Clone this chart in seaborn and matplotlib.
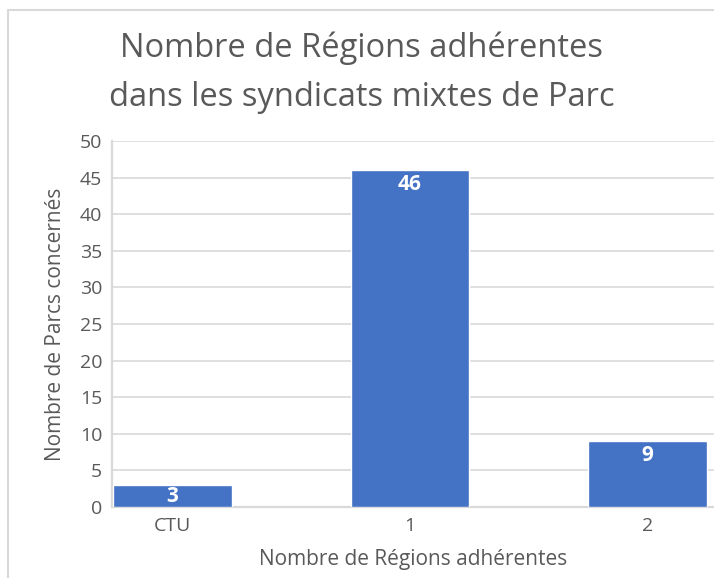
import matplotlib
matplotlib.use("Agg")
import matplotlib.pyplot as plt
import seaborn as sns
import pandas as pd

# data
categories = ["CTU", "1", "2"]
nb_parcs = [3, 46, 9]
y_ticks = [0, 5, 10, 15, 20, 25, 30, 35, 40, 45, 50]

df = pd.DataFrame({"cat": categories, "val": nb_parcs})

sns.set_theme(style="white")
plt.rcParams["font.family"] = ["Open Sans", "DejaVu Sans"]

grey = "#595959"

fig = plt.figure(figsize=(7.14, 5.78), dpi=100)
ax = fig.add_axes([112 / 714, 1 - 507 / 578, 1 - 112 / 714, (507 - 141) / 578])

sns.barplot(data=df, x="cat", y="val", color="#4472C4", width=0.5,
            saturation=1, ax=ax, zorder=3)

ax.set_xlim(-0.255, 2.28)
ax.set_ylim(0, 50)
ax.set_yticks(y_ticks)
ax.yaxis.grid(True, color="#D9D9D9", linewidth=1.2, zorder=0)
ax.set_axisbelow(True)
for s in ["top", "right"]:
    ax.spines[s].set_visible(False)
for s in ["bottom", "left"]:
    ax.spines[s].set_color("#D9D9D9")
    ax.spines[s].set_linewidth(1.6)
ax.tick_params(axis="both", length=0, labelsize=14, labelcolor=grey, pad=7)

ax.set_xlabel("Nombre de Régions adhérentes", fontsize=15, color=grey, labelpad=10)
ax.set_ylabel("Nombre de Parcs concernés", fontsize=15, color=grey, labelpad=10)

# data labels
for i, v in enumerate(nb_parcs):
    off = 1.9 if v > 5 else 1.5
    ax.text(i, v - off, str(v), ha="center", va="center", color="white",
            fontsize=15, fontweight="bold")

fig.text(362 / 714, 1 - 48 / 578, "Nombre de Régions adhérentes",
         ha="center", va="center", fontsize=23.5, color=grey)
fig.text(362 / 714, 1 - 97 / 578, "dans les syndicats mixtes de Parc",
         ha="center", va="center", fontsize=23.5, color=grey)

# chart border
fig.add_artist(plt.Line2D([8 / 714, 8 / 714], [0, 1 - 10 / 578],
                          transform=fig.transFigure, color="#D9D9D9", lw=1.5))
fig.add_artist(plt.Line2D([8 / 714, 1], [1 - 10 / 578, 1 - 10 / 578],
                          transform=fig.transFigure, color="#D9D9D9", lw=1.5))

fig.savefig("out.png", dpi=100)
